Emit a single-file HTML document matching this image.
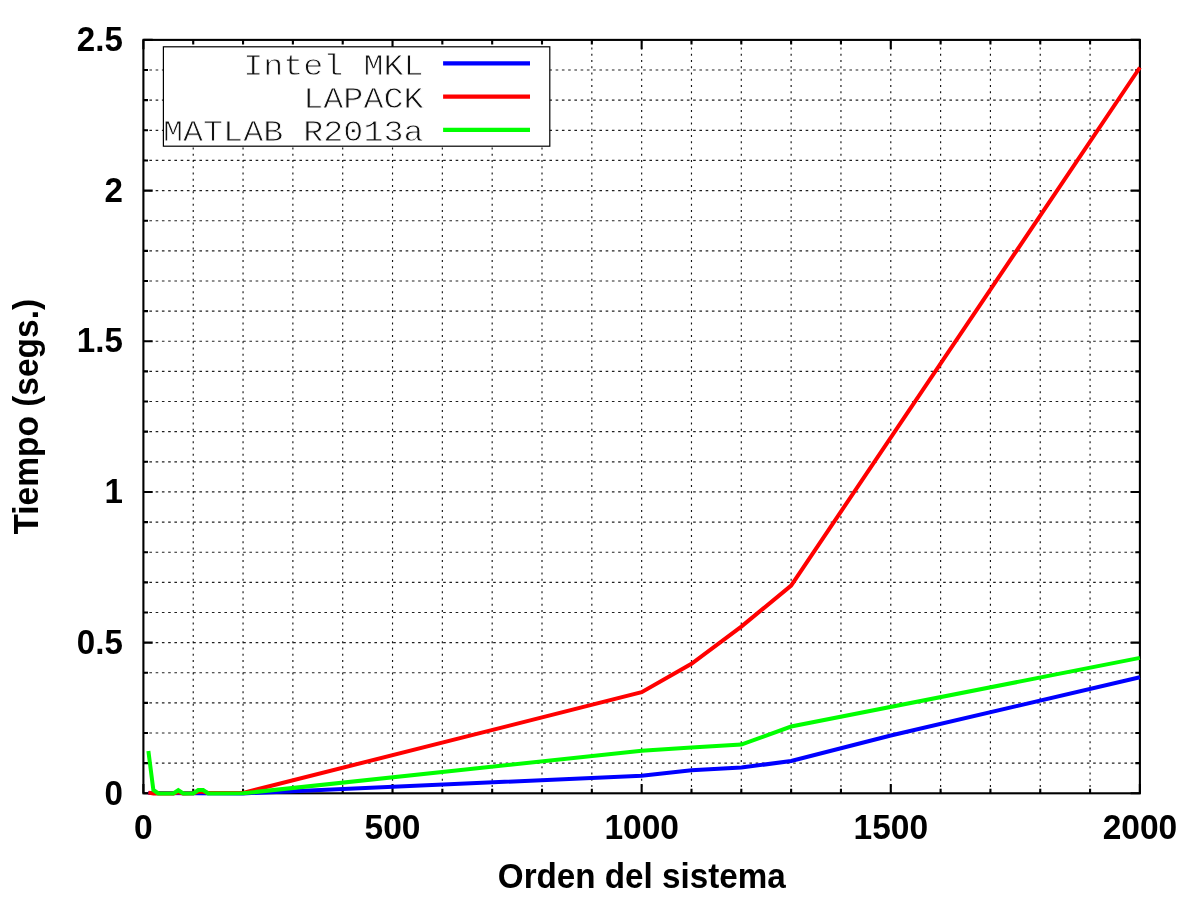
<!DOCTYPE html>
<html><head><meta charset="utf-8"><title>Tiempo vs Orden del sistema</title>
<style>html,body{margin:0;padding:0;background:#fff;width:1200px;height:900px;overflow:hidden}svg{display:block}</style>
</head><body>
<svg width="1200" height="900" viewBox="0 0 1200 900">
<rect width="1200" height="900" fill="#fff"/>
<path d="M193.23 793.3V39.9M243.05 793.3V39.9M292.88 793.3V39.9M342.7 793.3V39.9M392.53 793.3V39.9M442.35 793.3V39.9M492.18 793.3V39.9M542 793.3V39.9M591.83 793.3V39.9M641.65 793.3V39.9M691.48 793.3V39.9M741.3 793.3V39.9M791.13 793.3V39.9M840.95 793.3V39.9M890.78 793.3V39.9M940.6 793.3V39.9M990.43 793.3V39.9M1040.25 793.3V39.9M1090.08 793.3V39.9" stroke="#000" stroke-width="1.15" stroke-dasharray="2 4.25" fill="none" opacity="0.92"/>
<path d="M143.15 763.16H1139.9M143.15 733.03H1139.9M143.15 702.89H1139.9M143.15 672.76H1139.9M143.15 642.62H1139.9M143.15 612.48H1139.9M143.15 582.35H1139.9M143.15 552.21H1139.9M143.15 522.08H1139.9M143.15 491.94H1139.9M143.15 461.8H1139.9M143.15 431.67H1139.9M143.15 401.53H1139.9M143.15 371.4H1139.9M143.15 341.26H1139.9M143.15 311.12H1139.9M143.15 280.99H1139.9M143.15 250.85H1139.9M143.15 220.72H1139.9M143.15 190.58H1139.9M143.15 160.44H1139.9M143.15 130.31H1139.9M143.15 100.17H1139.9M143.15 70.04H1139.9" stroke="#000" stroke-width="1.15" stroke-dasharray="2.6 3.65" fill="none" opacity="0.88"/>
<rect x="143.4" y="39.9" width="996.5" height="753.4" fill="none" stroke="#000" stroke-width="2.1"/>
<path d="M143.4 793.3v-9.3M143.4 39.9v9.3M193.23 793.3v-4.6M193.23 39.9v4.6M243.05 793.3v-4.6M243.05 39.9v4.6M292.88 793.3v-4.6M292.88 39.9v4.6M342.7 793.3v-4.6M342.7 39.9v4.6M392.53 793.3v-9.3M392.53 39.9v9.3M442.35 793.3v-4.6M442.35 39.9v4.6M492.18 793.3v-4.6M492.18 39.9v4.6M542 793.3v-4.6M542 39.9v4.6M591.83 793.3v-4.6M591.83 39.9v4.6M641.65 793.3v-9.3M641.65 39.9v9.3M691.48 793.3v-4.6M691.48 39.9v4.6M741.3 793.3v-4.6M741.3 39.9v4.6M791.13 793.3v-4.6M791.13 39.9v4.6M840.95 793.3v-4.6M840.95 39.9v4.6M890.78 793.3v-9.3M890.78 39.9v9.3M940.6 793.3v-4.6M940.6 39.9v4.6M990.43 793.3v-4.6M990.43 39.9v4.6M1040.25 793.3v-4.6M1040.25 39.9v4.6M1090.08 793.3v-4.6M1090.08 39.9v4.6M1139.9 793.3v-9.3M1139.9 39.9v9.3M143.4 793.3h9.3M1139.9 793.3h-9.3M143.4 763.16h4.6M1139.9 763.16h-4.6M143.4 733.03h4.6M1139.9 733.03h-4.6M143.4 702.89h4.6M1139.9 702.89h-4.6M143.4 672.76h4.6M1139.9 672.76h-4.6M143.4 642.62h9.3M1139.9 642.62h-9.3M143.4 612.48h4.6M1139.9 612.48h-4.6M143.4 582.35h4.6M1139.9 582.35h-4.6M143.4 552.21h4.6M1139.9 552.21h-4.6M143.4 522.08h4.6M1139.9 522.08h-4.6M143.4 491.94h9.3M1139.9 491.94h-9.3M143.4 461.8h4.6M1139.9 461.8h-4.6M143.4 431.67h4.6M1139.9 431.67h-4.6M143.4 401.53h4.6M1139.9 401.53h-4.6M143.4 371.4h4.6M1139.9 371.4h-4.6M143.4 341.26h9.3M1139.9 341.26h-9.3M143.4 311.12h4.6M1139.9 311.12h-4.6M143.4 280.99h4.6M1139.9 280.99h-4.6M143.4 250.85h4.6M1139.9 250.85h-4.6M143.4 220.72h4.6M1139.9 220.72h-4.6M143.4 190.58h9.3M1139.9 190.58h-9.3M143.4 160.44h4.6M1139.9 160.44h-4.6M143.4 130.31h4.6M1139.9 130.31h-4.6M143.4 100.17h4.6M1139.9 100.17h-4.6M143.4 70.04h4.6M1139.9 70.04h-4.6M143.4 39.9h9.3M1139.9 39.9h-9.3" stroke="#000" stroke-width="2.1" fill="none"/>
<path d="M148.38 793 L243.05 793.4 L641.65 775.8 L691.48 770.2 L741.3 767.6 L791.13 761 L890.78 735.5 L1139.9 677.2" stroke="#0000ff" stroke-width="4" fill="none" stroke-linejoin="miter" stroke-linecap="butt"/>
<path d="M148.38 792.6 L153.37 793.4 L173.3 793.4 L178.28 792.2 L183.26 793.4 L193.23 793.2 L198.21 791.8 L203.19 791.8 L208.17 793 L243.05 792.9 L641.65 692.2 L691.48 663.8 L741.3 626.6 L791.13 585.6 L1139.9 67.5" stroke="#ff0000" stroke-width="4" fill="none" stroke-linejoin="miter" stroke-linecap="butt"/>
<path d="M148.38 751.1 L153.37 790 L158.35 793.4 L173.3 793.4 L178.28 790.2 L183.26 793.4 L193.23 793.4 L198.21 790 L203.19 790 L208.17 793.4 L243.05 793.3 L641.65 750.7 L691.48 747.6 L741.3 744.6 L791.13 726.5 L1139.9 657.9" stroke="#00ff00" stroke-width="4" fill="none" stroke-linejoin="miter" stroke-linecap="butt"/>
<rect x="163.4" y="46.8" width="386.4" height="99.4" fill="#fff" stroke="#000" stroke-width="1.2"/>
<g font-family="'Liberation Mono', monospace" font-size="33.4" text-anchor="end" fill="#111" stroke="#fff" stroke-width="0.9">
<text transform="translate(423.5 74.7) scale(1 0.875)">Intel MKL</text>
<text transform="translate(423.5 107.9) scale(1 0.875)">LAPACK</text>
<text transform="translate(423.5 141.3) scale(1 0.875)">MATLAB R2013a</text>
</g>
<path d="M443.1 63.3H530" stroke="#0000ff" stroke-width="4.2"/>
<path d="M443.1 96.6H530" stroke="#ff0000" stroke-width="4.2"/>
<path d="M443.1 129.9H530" stroke="#00ff00" stroke-width="4.2"/>
<g font-family="'Liberation Sans', sans-serif" font-weight="bold" font-size="34" fill="#000">
<text transform="translate(122.9 804.5) scale(0.975 1.05)" text-anchor="end">0</text>
<text transform="translate(122.9 653.82) scale(0.975 1.05)" text-anchor="end">0.5</text>
<text transform="translate(122.9 503.14) scale(0.975 1.05)" text-anchor="end">1</text>
<text transform="translate(122.9 352.46) scale(0.975 1.05)" text-anchor="end">1.5</text>
<text transform="translate(122.9 201.78) scale(0.975 1.05)" text-anchor="end">2</text>
<text transform="translate(122.9 51.1) scale(0.975 1.05)" text-anchor="end">2.5</text>
<text transform="translate(143.4 838.6) scale(0.985 1.05)" text-anchor="middle">0</text>
<text transform="translate(392.53 838.6) scale(0.985 1.05)" text-anchor="middle">500</text>
<text transform="translate(641.65 838.6) scale(0.985 1.05)" text-anchor="middle">1000</text>
<text transform="translate(890.78 838.6) scale(0.985 1.05)" text-anchor="middle">1500</text>
<text transform="translate(1139.9 838.6) scale(0.985 1.05)" text-anchor="middle">2000</text>
<text transform="translate(641.75 888) scale(0.977 1.05)" text-anchor="middle">Orden del sistema</text>
<text transform="translate(37.6 416.7) rotate(-90) scale(0.985 1.05)" text-anchor="middle">Tiempo (segs.)</text>
</g>
</svg>
</body></html>
